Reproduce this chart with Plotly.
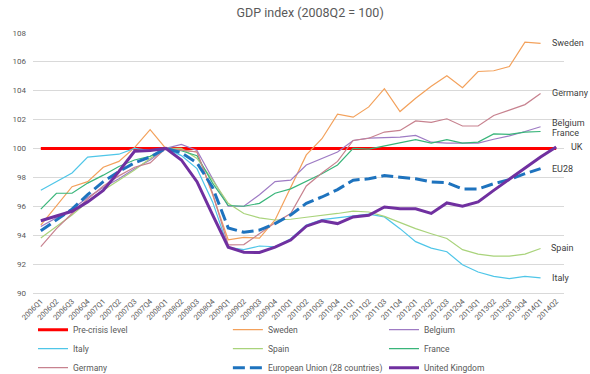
import plotly.graph_objects as go

quarters = ["2006Q1", "2006Q2", "2006Q3", "2006Q4", "2007Q1", "2007Q2", "2007Q3", "2007Q4",
            "2008Q1", "2008Q2", "2008Q3", "2008Q4", "2009Q1", "2009Q2", "2009Q3", "2009Q4",
            "2010Q1", "2010Q2", "2010Q3", "2010Q4", "2011Q1", "2011Q2", "2011Q3", "2011Q4",
            "2012Q1", "2012Q2", "2012Q3", "2012Q4", "2013Q1", "2013Q2", "2013Q3", "2013Q4",
            "2014Q1", "2014Q2"]

precrisis = [100, 100, 100, 100, 100, 100, 100, 100, 100, 100, 100, 100, 100, 100, 100, 100, 100,
             100, 100, 100, 100, 100, 100, 100, 100, 100, 100, 100, 100, 100, 100, 100, 100, 100]
sweden = [94.7, 96.0, 97.35, 97.7, 98.7, 99.1, 100.05, 101.3, 100.0, 99.9, 99.75, 96.8, 93.68, 93.84,
          93.8, 95.05, 97.3, 99.55, 100.67, 102.36, 102.16, 102.87, 104.13, 102.55, 103.47, 104.3,
          105.02, 104.2, 105.32, 105.37, 105.66, 107.35, 107.26]
belgium = [94.6, 95.2, 95.8, 96.6, 97.3, 97.9, 98.6, 99.2, 100.0, 100.28, 99.86, 97.9, 96.0, 96.0,
           96.8, 97.7, 97.8, 98.85, 99.3, 99.75, 100.55, 100.71, 100.75, 100.78, 100.9, 100.43,
           100.37, 100.37, 100.37, 100.63, 100.87, 101.17, 101.5]
italy = [97.1, 97.7, 98.3, 99.4, 99.5, 99.6, 100.0, 99.85, 100.0, 99.5, 98.6, 96.3, 93.15, 93.0,
         93.25, 93.2, 93.75, 94.7, 95.08, 95.2, 95.3, 95.45, 95.26, 94.45, 93.55, 93.1, 92.85,
         91.95, 91.45, 91.15, 91.0, 91.15, 91.05]
spain = [93.8, 94.6, 95.4, 96.3, 97.1, 97.8, 98.5, 99.3, 100.0, 100.0, 99.3, 97.8, 96.2, 95.5,
         95.2, 95.05, 95.1, 95.24, 95.35, 95.5, 95.66, 95.6, 95.3, 94.85, 94.45, 94.1, 93.77,
         93.0, 92.69, 92.55, 92.55, 92.69, 93.08]
france = [95.8, 96.9, 96.9, 97.6, 98.15, 98.75, 99.2, 99.45, 100.0, 99.84, 99.5, 97.6, 96.05, 96.0,
          96.2, 96.9, 97.2, 97.7, 98.25, 98.85, 100.0, 99.95, 100.16, 100.37, 100.6, 100.37,
          100.6, 100.37, 100.44, 101.0, 100.97, 101.13, 101.17]
germany = [93.2, 94.45, 95.5, 96.5, 97.4, 98.1, 98.7, 99.0, 100.0, 99.9, 99.75, 96.9, 93.33, 93.35,
           94.1, 94.85, 95.5, 97.4, 98.3, 99.1, 100.55, 100.7, 101.13, 101.24, 101.9, 101.8,
           102.05, 101.55, 101.55, 102.28, 102.65, 103.03, 103.8]
eu28 = [94.3, 95.05, 95.8, 96.8, 97.7, 98.4, 99.0, 99.4, 100.0, 99.7, 99.0, 97.3, 94.5, 94.2,
        94.35, 94.8, 95.4, 96.2, 96.64, 97.15, 97.8, 97.9, 98.12, 98.0, 97.9, 97.68, 97.63,
        97.2, 97.2, 97.56, 97.84, 98.25, 98.6]
uk = [95.0, 95.3, 95.65, 96.3, 97.1, 98.4, 99.8, 99.85, 100.0, 99.2, 97.7, 95.4, 93.17, 92.82,
      92.8, 93.17, 93.66, 94.62, 94.99, 94.8, 95.26, 95.38, 95.95, 95.82, 95.82, 95.5, 96.23,
      96.0, 96.3, 97.1, 97.88, 98.68, 99.4, 100.1]

series = [
    ("Pre-crisis level", precrisis, "#FF0000", 3, "solid", "legend"),
    ("Sweden", sweden, "#F3A15B", 1.2, "solid", "legend2"),
    ("Belgium", belgium, "#9E7BC4", 1.2, "solid", "legend3"),
    ("Italy", italy, "#4FC6E8", 1.2, "solid", "legend"),
    ("Spain", spain, "#A9D37B", 1.2, "solid", "legend2"),
    ("France", france, "#39B57A", 1.2, "solid", "legend3"),
    ("Germany", germany, "#C7828F", 1.2, "solid", "legend"),
    ("European Union (28 countries)", eu28, "#1E73BE", 3, "12px,5px", "legend2"),
    ("United Kingdom", uk, "#7030A0", 3, "solid", "legend3"),
]

# end-of-line labels: (text, series values, x offset px, y offset px)
end_labels = [
    ("Sweden", sweden, 9, 0),
    ("Germany", germany, 9, 0),
    ("Belgium", belgium, 9, 4),
    ("France", france, 9, -2),
    ("UK", uk, 13, 0),
    ("EU28", eu28, 9, 0),
    ("Spain", spain, 8, 0),
    ("Italy", italy, 9, 0),
]

FONT = "Roboto, 'Liberation Sans', sans-serif"

fig = go.Figure()
for name, vals, color, width, dash, leg in series:
    fig.add_trace(go.Scatter(
        x=quarters[:len(vals)], y=vals, name=name, mode="lines",
        line=dict(color=color, width=width, dash=dash),
        legend=leg,
    ))

annotations = []
for text, vals, dx, dy in end_labels:
    annotations.append(dict(
        x=quarters[len(vals) - 1], y=vals[-1], xref="x", yref="y",
        text=text, showarrow=False, xanchor="left", yanchor="middle",
        xshift=dx, yshift=dy, font=dict(family=FONT, size=9, color="#404040"),
    ))

legend_common = dict(orientation="v", xanchor="left", yanchor="top",
                     bgcolor="rgba(0,0,0,0)", tracegroupgap=0, itemwidth=30,
                     font=dict(family=FONT, size=8.5, color="#595959"))

LEG_Y = -0.085

fig.update_layout(
    width=590, height=374,
    paper_bgcolor="white", plot_bgcolor="white",
    margin=dict(l=33, r=26, t=32, b=81, autoexpand=False),
    title=dict(text="GDP index (2008Q2 = 100)", x=0.522, xref="paper", xanchor="center",
               y=1 - 13 / 374, yref="container", yanchor="middle",
               font=dict(family=FONT, size=12.5, color="#595959")),
    xaxis=dict(type="category", categoryorder="array", categoryarray=quarters,
               range=[-0.5, 33.5], tickangle=-45, showgrid=False, zeroline=False,
               showline=True, linecolor="#D9D9D9", linewidth=1, ticks="",
               tickfont=dict(family=FONT, size=7.5, color="#595959")),
    yaxis=dict(range=[90, 108.05], dtick=2, tick0=90, showgrid=True, gridcolor="#D9D9D9",
               gridwidth=1, zeroline=False, showline=False, ticks="", ticklabelstandoff=6,
               tickfont=dict(family=FONT, size=8, color="#595959")),
    legend=dict(x=0.0, y=LEG_Y, **legend_common),
    legend2=dict(x=0.367, y=LEG_Y, **legend_common),
    legend3=dict(x=0.661, y=LEG_Y, **legend_common),
    annotations=annotations,
)

fig.write_html("out.html", config={"displayModeBar": False},
               post_script="document.body.style.margin='0px';document.body.style.padding='0px';")
